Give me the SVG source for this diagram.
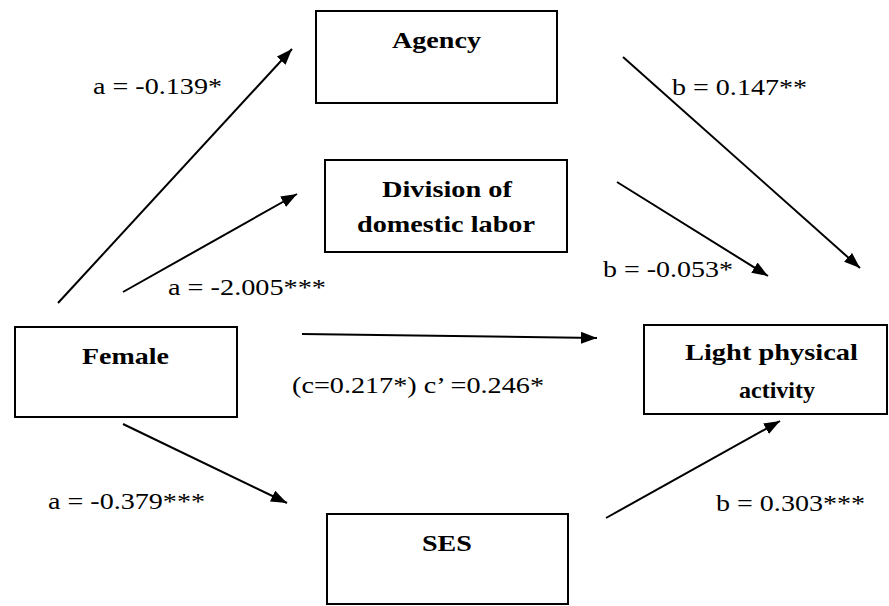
<svg xmlns="http://www.w3.org/2000/svg" width="889" height="606" viewBox="0 0 889 606">
  <style>
    .box { fill: #fff; stroke: #000; stroke-width: 2; }
    .node { font-weight: bold; font-size: 23px; fill: #000; }
    .lbl { font-size: 23px; fill: #000; }
    .conn line { stroke: #000; stroke-width: 2; marker-end: url(#arr); }
  </style>
  <defs>
    <marker id="arr" markerUnits="userSpaceOnUse" markerWidth="18" markerHeight="14" refX="16" refY="6" orient="auto">
      <path d="M0,0 L16,6 L0,12 z" fill="#000"/>
    </marker>
  </defs>
  <rect width="889" height="606" fill="#fff"/>

  <g font-family="Liberation Serif, Times New Roman, Tinos, Noto Serif, DejaVu Serif, FreeSerif, serif">
  <g id="agency">
    <rect class="box" x="316" y="11" width="241" height="92"/>
    <text class="node" x="392" y="48" textLength="89" lengthAdjust="spacingAndGlyphs">Agency</text>
  </g>
  <g id="division">
    <rect class="box" x="325" y="160" width="242" height="92"/>
    <text class="node" x="382" y="197" textLength="130" lengthAdjust="spacingAndGlyphs">Division of</text>
    <text class="node" x="357" y="232" textLength="178" lengthAdjust="spacingAndGlyphs">domestic labor</text>
  </g>
  <g id="female">
    <rect class="box" x="15" y="327" width="222" height="90"/>
    <text class="node" x="82" y="364" textLength="87" lengthAdjust="spacingAndGlyphs">Female</text>
  </g>
  <g id="ses">
    <rect class="box" x="327" y="514" width="241" height="90"/>
    <text class="node" x="422" y="551" textLength="50" lengthAdjust="spacingAndGlyphs">SES</text>
  </g>
  <g id="lpa">
    <rect class="box" x="644" y="325" width="243" height="89"/>
    <text class="node" x="685" y="360" textLength="173" lengthAdjust="spacingAndGlyphs">Light physical</text>
    <text class="node" x="739" y="398" textLength="76" lengthAdjust="spacingAndGlyphs">activity</text>
  </g>

  <g id="connectors" class="conn">
    <line x1="58" y1="303" x2="292" y2="49"/>
    <line x1="123" y1="292" x2="297" y2="194"/>
    <line x1="302" y1="334" x2="597" y2="338"/>
    <line x1="123" y1="424" x2="287" y2="503"/>
    <line x1="623" y1="57" x2="860" y2="268"/>
    <line x1="617" y1="182" x2="768" y2="276"/>
    <line x1="606" y1="518" x2="780" y2="421"/>
  </g>

  <g id="labels">
    <text class="lbl" x="93" y="94" textLength="129" lengthAdjust="spacingAndGlyphs">a = -0.139*</text>
    <text class="lbl" x="168" y="295" textLength="158" lengthAdjust="spacingAndGlyphs">a = -2.005***</text>
    <text class="lbl" x="672" y="95" textLength="135" lengthAdjust="spacingAndGlyphs">b = 0.147**</text>
    <text class="lbl" x="603" y="277" textLength="130" lengthAdjust="spacingAndGlyphs">b = -0.053*</text>
    <text class="lbl" x="292" y="393" textLength="252" lengthAdjust="spacingAndGlyphs">(c=0.217*) c’ =0.246*</text>
    <text class="lbl" x="48" y="509" textLength="157" lengthAdjust="spacingAndGlyphs">a = -0.379***</text>
    <text class="lbl" x="716" y="511" textLength="149" lengthAdjust="spacingAndGlyphs">b = 0.303***</text>
  </g>
  </g>
</svg>
